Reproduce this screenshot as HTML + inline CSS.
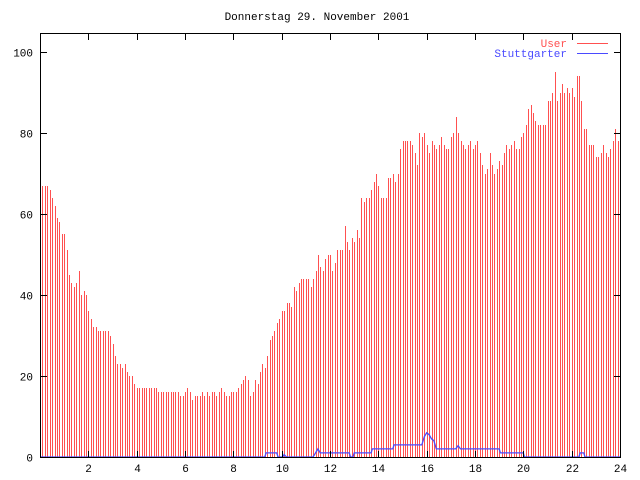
<!DOCTYPE html>
<html><head><meta charset="utf-8"><style>body{margin:0;background:#fff}svg{display:block}text{font-family:"Liberation Mono",monospace;font-size:11px}</style></head>
<body>
<svg id="s" width="640" height="480" xmlns="http://www.w3.org/2000/svg" shape-rendering="crispEdges">
<rect width="640" height="480" fill="#fff"/>
<g id="bars" fill="#ff5050"></g>
<polyline id="blue" fill="none" stroke="#4a4aff" stroke-width="1.3" shape-rendering="auto"/>
<rect x="40.5" y="33.5" width="580" height="424" fill="none" stroke="#000"/>
<g id="ticks" stroke="#000"></g>
<g id="lab" fill="#000"></g>
<text x="317" y="20" text-anchor="middle">Donnerstag 29. November 2001</text>
<text x="567" y="47" text-anchor="end" fill="#ff5050">User</text>
<line x1="577" y1="43.5" x2="608" y2="43.5" stroke="#ff5050"/>
<text x="567" y="57" text-anchor="end" fill="#4a4aff">Stuttgarter</text>
<line x1="577" y1="53.5" x2="608" y2="53.5" stroke="#4a4aff"/>
</svg>
<script>
var a=[70,67,67,67,66,64,62,59,58,55,55,51,45,43,42,43,46,40,41,40,36,34,32,32,31,31,31,31,31,30,
28,25,23,23,22,23,21,20,20,18,17,17,17,17,17,17,17,17,17,16,
16,16,16,16,16,16,16,16,15,15,16,17,16,14,15,15,15,16,15,16,15,16,16,15,16,17,16,15,15,16,16,16,17,18,19,20,19];
var m=[15,16,19,19,18,21,23,22,25,29,29,30,31,33,34,32,36,36,38,38,37,40,42,41,43,44,44,44,44,44,42,44,46,50,48,47,46,49,50,50,50,46,48,51,51,51,56,57,53,51,54,53,53,56,54,64,63,64,67,64,66,68,70,67,68,64,64,64,69,69,72,70,68,70,76,78,78,81,78,78,77,75,72,79,80,79,80,77,75,81,78,77,76,77,79,78,77,76,76];
for(var i=0;i<83;i++){a.push(m[Math.round(i*(m.length-1)/82)]);}
a=a.concat([79,80,84,80,78,77,76,77,78,76,77,78,75,72,70,71,75,72,70,71,73,72,75,77,76,77,78,76,76,79,80,82,86,87,85,83,82,82,82,82,88,88,90,95,88,90,92,90,91,90,91,89,94,94,88,81,81,77,77,77,74,74,75,77,75,74,76,78,81,78]);
var X=function(h){return 40+h*580/24},Y=function(v){return 457-v*4.05};
var g=document.getElementById('bars'),h='';
for(i=0;i<a.length;i++){var x=Math.round(X(i/10)),y=Math.round(Y(a[i]));h+='<rect x="'+x+'" y="'+y+'" width="1" height="'+(457-y)+'"/>';}
g.innerHTML=h;
var bl=[[0,0],[9.3,0],[9.35,1],[9.8,1],[9.85,0],[10.05,0],[10.1,0.6],[10.2,0],[11.3,0],[11.4,1],[11.5,2],[11.6,1],[12.8,1],[12.85,0],[12.95,0],[13,1],[13.7,1],[13.75,2],[14.6,2],[14.65,3],[15.8,3],[15.9,5],[16,6],[16.1,5.5],[16.2,4.5],[16.3,4],[16.4,2],[17.2,2],[17.3,2.8],[17.4,2],[19,2],[19.05,1],[20,1],[20.05,0],[22.3,0],[22.35,1],[22.5,1],[22.55,0],[24,0]];
document.getElementById('blue').setAttribute('points',bl.map(function(p){return X(p[0]).toFixed(1)+','+Y(p[1]).toFixed(1)}).join(' '));
var t='',l='';
for(var k=2;k<=24;k+=2){var x=Math.round(X(k))+0.5;t+='<line x1="'+x+'" y1="457" x2="'+x+'" y2="451"/><line x1="'+x+'" y1="34" x2="'+x+'" y2="40"/>';l+='<text x="'+x+'" y="472" text-anchor="middle">'+k+'</text>';}
for(var v=0;v<=100;v+=20){var y=Math.round(Y(v))+0.5;t+='<line x1="41" y1="'+y+'" x2="47" y2="'+y+'"/><line x1="614" y1="'+y+'" x2="620" y2="'+y+'"/>';l+='<text x="33" y="'+(y+4)+'" text-anchor="end">'+v+'</text>';}
document.getElementById('ticks').innerHTML=t;document.getElementById('lab').innerHTML=l;
</script>
</body></html>
